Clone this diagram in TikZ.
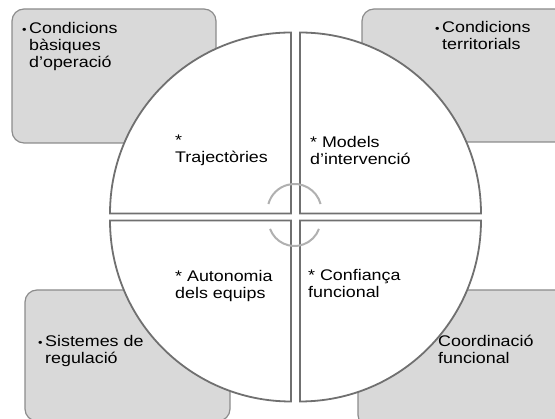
\documentclass[tikz,border=0pt]{standalone}
\usepackage{fontspec}
\setmainfont{Liberation Sans}[FakeStretch=1.16]
\usepackage{tikz}
\definecolor{boxfill}{HTML}{D9D9D9}
\definecolor{boxline}{HTML}{8C8C8C}
\definecolor{quadline}{HTML}{707070}
\definecolor{hookline}{HTML}{B0B0B0}
\newcommand{\bul}{\llap{{\fontsize{11}{11}\selectfont •}\hspace{2.5pt}}}

\begin{document}
\begin{tikzpicture}[x=1pt,y=1pt,
		box/.style={draw=boxline, fill=boxfill, line width=1.2pt, rounded corners=12pt},
		quad/.style={draw=quadline, fill=white, line width=1.8pt},
		hook/.style={draw=hookline, line width=2pt},
		txt/.style={anchor=base west, align=left, inner sep=0pt, font=\fontsize{15.4}{17}\selectfont}]
				\useasboundingbox (0,0) rectangle (555,419);

				% outer boxes
				\draw[box] (12,276) rectangle (216,410);
				\draw[box] (362,277) rectangle (575,410);
				\draw[box] (25,-2) rectangle (230,129);
				\draw[box] (358,-8) rectangle (575,129);

				% the four quarters
				\coordinate (c) at (295.5,202);
				\draw[quad, shift={(c)}] (4.5,3.5) -- ++(181pt,0) arc (0:90:181pt) -- cycle;
				\draw[quad, shift={(c)}] (-4.5,3.5) -- ++(0,181pt) arc (90:180:181pt) -- cycle;
				\draw[quad, shift={(c)}] (-4.5,-3.5) -- ++(-181pt,0) arc (180:270:181pt) -- cycle;
				\draw[quad, shift={(c)}] (4.5,-3.5) -- ++(0,-181pt) arc (270:360:181pt) -- cycle;

				% arcs round the centre
				\draw[hook, shift={(c)}] (-1,6) ++(15:27pt) arc (15:165:27pt);
				\draw[hook, shift={(c)}] (-1,-3) ++(200:26pt) arc (200:340:26pt);

				% anchors sit on the last line
				\node[txt] (basiques) at (29,351) {\bul Condicions\\bàsiques\\d’operació};
				\node[txt] (territorials) at (442,369) {\bul Condicions\\territorials};
				\node[txt] (regulacio) at (45,55) {\bul Sistemes de\\regulació};
				\node[txt] (coordinacio) at (438,55) {Coordinació\\funcional};

				\node[txt] (trajectories) at (175,256) {*\\Trajectòries};
				\node[txt] (models) at (310,254) {* Models\\d’intervenció};
				\node[txt] (autonomia) at (175,120) {* Autonomia\\dels equips};
				\node[txt] (confianca) at (308,121) {* Confiança\\funcional};
			\end{tikzpicture}
\end{document}
